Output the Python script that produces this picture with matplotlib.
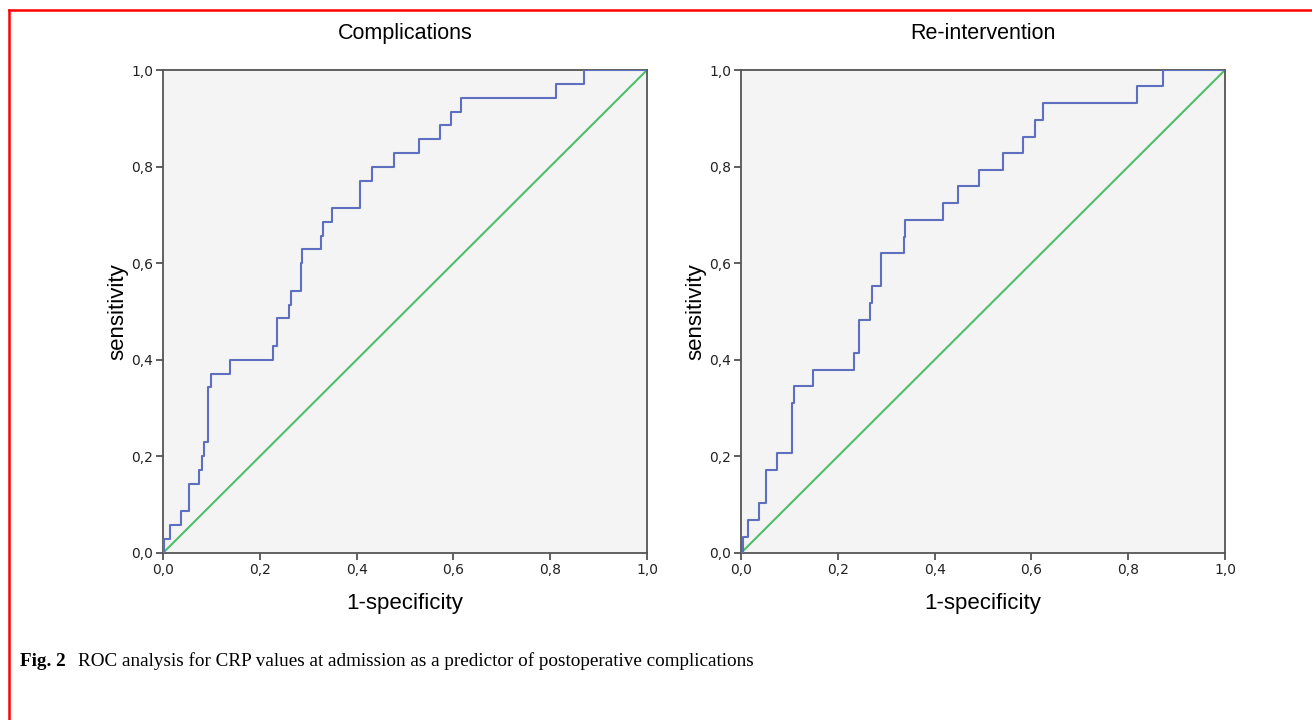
import matplotlib
matplotlib.use("Agg")
import matplotlib.pyplot as plt
from matplotlib.lines import Line2D

# ROC step vertices (1-specificity, sensitivity)
comp_fpr = [0.0, 0.003, 0.014, 0.038, 0.053, 0.075, 0.080, 0.085, 0.094, 0.099,
            0.138, 0.227, 0.236, 0.261, 0.265, 0.285, 0.288, 0.326, 0.330, 0.350,
            0.406, 0.432, 0.478, 0.529, 0.572, 0.596, 0.615, 0.812, 0.869, 1.0]
comp_tpr = [0.0, 0.029, 0.057, 0.086, 0.143, 0.171, 0.200, 0.229, 0.343, 0.371,
            0.400, 0.429, 0.486, 0.514, 0.543, 0.600, 0.629, 0.657, 0.686, 0.714,
            0.771, 0.800, 0.829, 0.857, 0.886, 0.914, 0.943, 0.971, 1.0, 1.0]

reint_fpr = [0.0, 0.004, 0.014, 0.038, 0.051, 0.075, 0.106, 0.110, 0.148, 0.234,
             0.243, 0.267, 0.271, 0.289, 0.336, 0.339, 0.418, 0.448, 0.492, 0.542,
             0.583, 0.607, 0.624, 0.818, 0.872, 1.0]
reint_tpr = [0.0, 0.034, 0.069, 0.103, 0.172, 0.207, 0.310, 0.345, 0.379, 0.414,
             0.483, 0.517, 0.552, 0.621, 0.655, 0.690, 0.724, 0.759, 0.793, 0.828,
             0.862, 0.897, 0.931, 0.966, 1.0, 1.0]

titles = ["Complications", "Re-intervention"]
ticks = [0.0, 0.2, 0.4, 0.6, 0.8, 1.0]
tick_labels = ["0,0", "0,2", "0,4", "0,6", "0,8", "1,0"]
caption_bold = "Fig. 2"
caption = "ROC analysis for CRP values at admission as a predictor of postoperative complications"

W, H = 1312, 720
fig = plt.figure(figsize=(W / 100, H / 100), dpi=100)

curves = [(comp_fpr, comp_tpr), (reint_fpr, reint_tpr)]
lefts = [163, 741]
for left, (fpr, tpr), title in zip(lefts, curves, titles):
    ax = fig.add_axes([left / W, (H - 553) / H, 484 / W, 483 / H])
    ax.set_facecolor("#f4f4f4")
    ax.plot([0, 1], [0, 1], color="#4dbf6b", lw=1.5, zorder=2)
    ax.plot(fpr, tpr, drawstyle="steps-post", color="#5e6fbf", lw=1.5, zorder=3)
    ax.set_xlim(0, 1)
    ax.set_ylim(0, 1)
    ax.set_xticks(ticks)
    ax.set_xticklabels(tick_labels)
    ax.set_yticks(ticks)
    ax.set_yticklabels(tick_labels)
    ax.tick_params(direction="out", length=5, width=1.2, color="#444444",
                   labelsize=10, labelcolor="#222222", pad=2)
    for sp in ax.spines.values():
        sp.set_color("#555555")
        sp.set_linewidth(1.3)
    ax.set_xlabel("1-specificity", family="Liberation Sans", fontsize=16)
    ax.xaxis.label.set_va("center")
    ax.xaxis.set_label_coords(0.5, -50 / 483)
    ax.set_ylabel("sensitivity", family="Liberation Sans", fontsize=16)
    ax.yaxis.label.set_va("center")
    ax.yaxis.set_label_coords(-45 / 484, 0.5)
    ax.text(0.5, 1 + 37 / 483, title, transform=ax.transAxes, ha="center",
            va="center", family="Liberation Sans", fontsize=15.5)

# caption
fig.text(20 / W, 1 - 661 / H, caption_bold, family="Liberation Serif",
         fontweight="bold", fontsize=13.8, va="center", ha="left")
fig.text(78 / W, 1 - 661 / H, caption, family="Liberation Serif",
         fontsize=13.8, va="center", ha="left")

# red frame (top and left edges)
fig.add_artist(Line2D([9 / W, 9 / W], [0, 1 - 10 / H], transform=fig.transFigure,
                      color="red", lw=1.8))
fig.add_artist(Line2D([9 / W, 1], [1 - 10 / H, 1 - 10 / H], transform=fig.transFigure,
                      color="red", lw=1.8))

fig.savefig("out.png", dpi=100)
